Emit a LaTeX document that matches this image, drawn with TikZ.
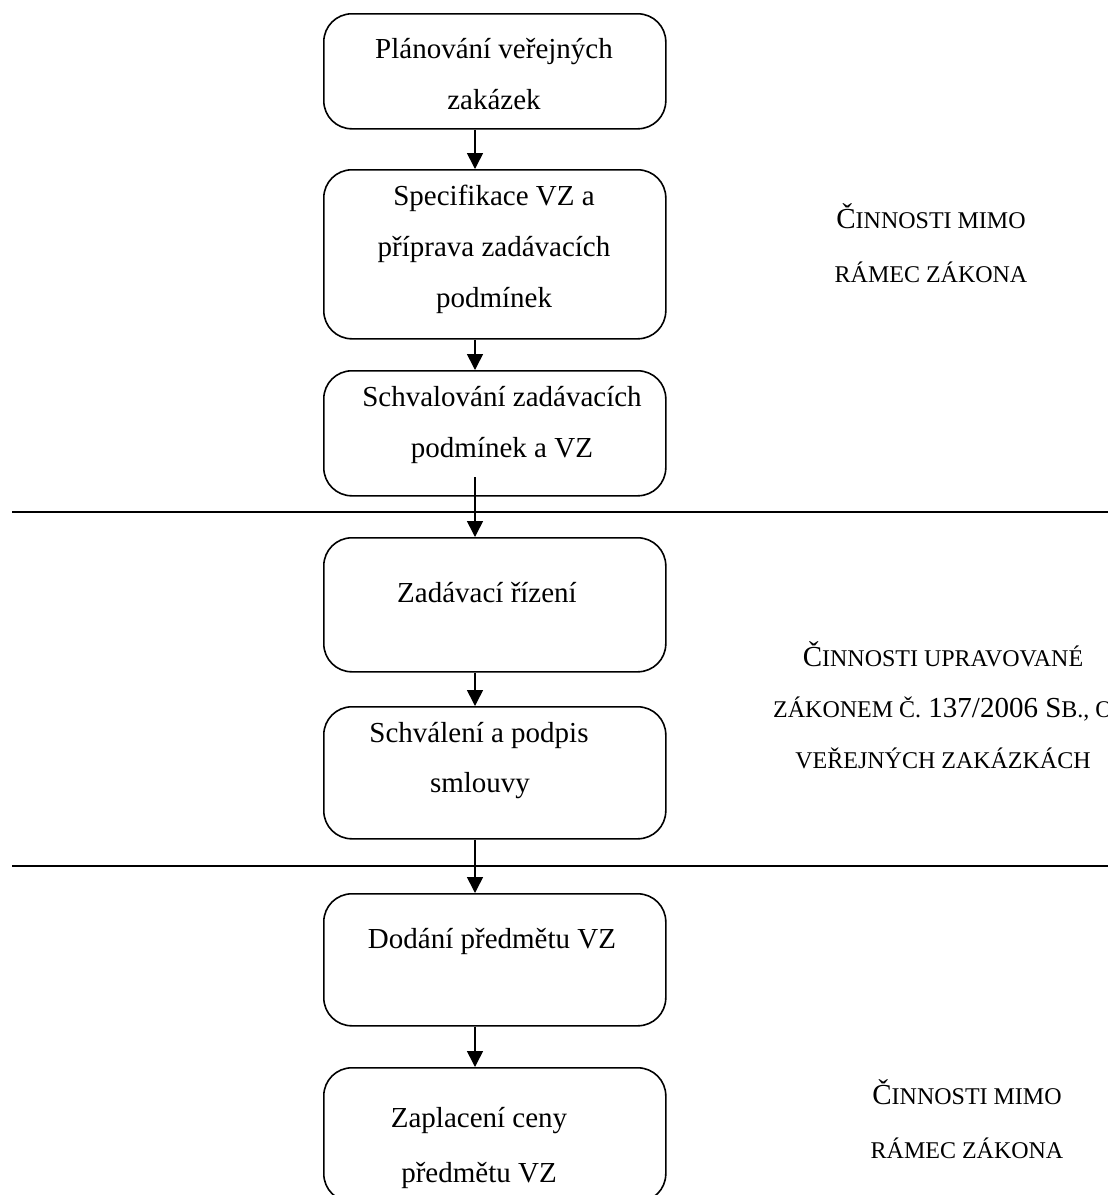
\documentclass[tikz,border=0pt]{standalone}
\usepackage{fontspec}
\setmainfont{Liberation Serif}
\usetikzlibrary{arrows.meta}
\newcommand{\smc}[1]{{\fontsize{24}{28}\selectfont #1}}
\tikzset{
  stepbox/.style={draw, line width=1.6pt, rounded corners=28pt, minimum width=342pt, anchor=north west, inner sep=0pt},
  txt/.style={anchor=base, inner sep=0pt, font=\fontsize{29}{34}\selectfont},
  arr/.style={line width=1.6pt, -{Triangle[width=16pt,length=16pt]}},
  sepline/.style={line width=1.6pt}
}
\begin{document}
\begin{tikzpicture}[x=1pt,y=-1pt]
\useasboundingbox (0,0) rectangle (1108,1195);
\clip (0,0) rectangle (1108,1195);
\fill[white] (0,0) rectangle (1108,1195);
% boxes
\node[stepbox, minimum height=115pt] (b1) at (323,13) {};
\node[stepbox, minimum height=169pt] (b2) at (323,169) {};
\node[stepbox, minimum height=125pt] (b3) at (323,370) {};
\node[stepbox, minimum height=134pt] (b4) at (323,537) {};
\node[stepbox, minimum height=132pt] (b5) at (323,706) {};
\node[stepbox, minimum height=132pt] (b6) at (323,893) {};
\node[stepbox, minimum height=134pt] (b7) at (323,1067) {};
% box texts
\node[txt] (t1a) at (494,58) {Plánování veřejných};
\node[txt] (t1b) at (494,109) {zakázek};
\node[txt] (t2a) at (494,205) {Specifikace VZ a};
\node[txt] (t2b) at (494,256) {příprava zadávacích};
\node[txt] (t2c) at (494,307) {podmínek};
\node[txt] (t3a) at (502,406) {Schvalování zadávacích};
\node[txt] (t3b) at (502,457) {podmínek a VZ};
\node[txt] (t4a) at (487,602) {Zadávací řízení};
\node[txt] (t5a) at (479,742) {Schválení a podpis};
\node[txt] (t5b) at (480,792) {smlouvy};
\node[txt] (t6a) at (492,948) {Dodání předmětu VZ};
\node[txt] (t7a) at (479,1127) {Zaplacení ceny};
\node[txt] (t7b) at (479,1182) {předmětu VZ};
% arrows
\coordinate (ax) at (475,0);
\coordinate (s3) at (475,477);
\draw[arr] (b1.south -| ax) -- (b2.north -| ax);
\draw[arr] (b2.south -| ax) -- (b3.north -| ax);
\draw[arr] (s3) -- (b4.north -| ax);
\draw[arr] (b4.south -| ax) -- (b5.north -| ax);
\draw[arr] (b5.south -| ax) -- (b6.north -| ax);
\draw[arr] (b6.south -| ax) -- (b7.north -| ax);
% separators
\coordinate (l1a) at (12,512); \coordinate (l1b) at (1108,512);
\coordinate (l2a) at (12,866); \coordinate (l2b) at (1108,866);
\draw[sepline] (l1a) -- (l1b);
\draw[sepline] (l2a) -- (l2b);
% side texts
\node[txt] (r1a) at (931,228) {Č\smc{INNOSTI MIMO}};
\node[txt] (r1b) at (931,282) {\smc{RÁMEC ZÁKONA}};
\node[txt] (r2a) at (943,666) {Č\smc{INNOSTI UPRAVOVANÉ}};
\node[txt] (r2b) at (943,717) {\smc{ZÁKONEM Č.} 137/2006 S\smc{B., O}};
\node[txt] (r2c) at (943,768) {\smc{VEŘEJNÝCH ZAKÁZKÁCH}};
\node[txt] (r3a) at (967,1104) {Č\smc{INNOSTI MIMO}};
\node[txt] (r3b) at (967,1158) {\smc{RÁMEC ZÁKONA}};
\end{tikzpicture}
\end{document}
